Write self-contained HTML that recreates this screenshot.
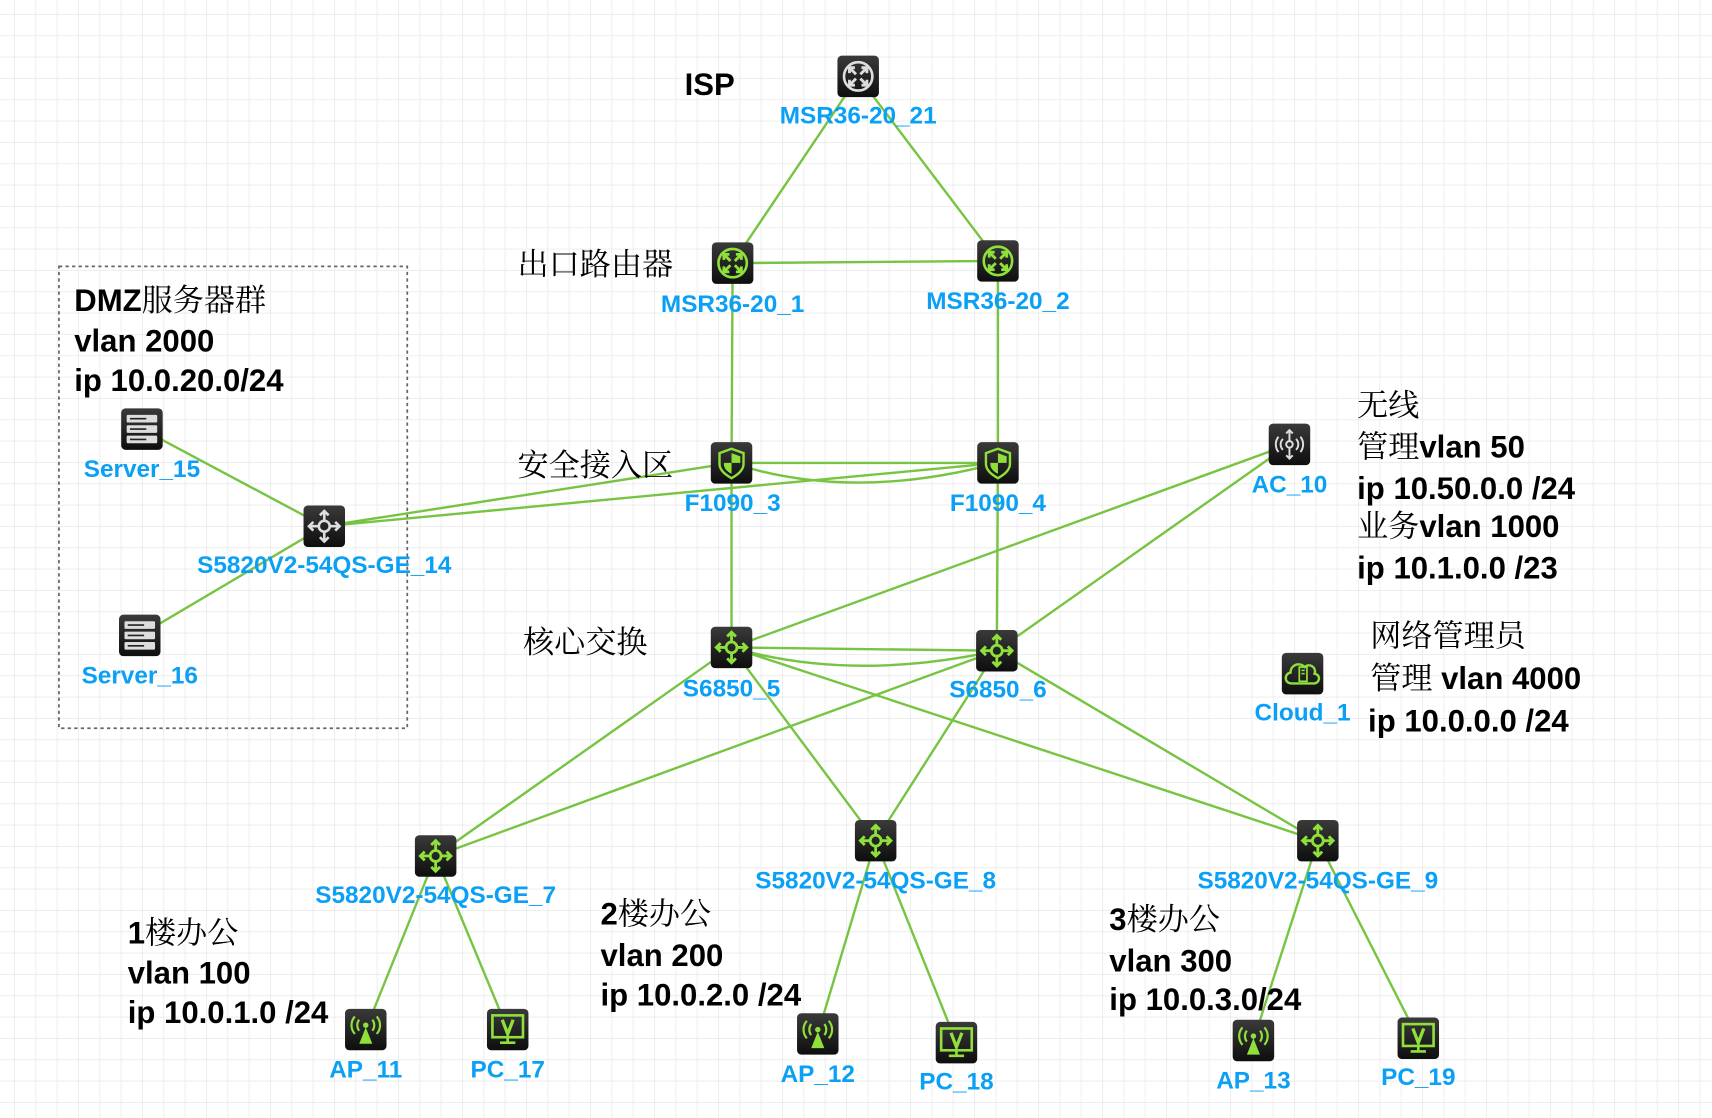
<!DOCTYPE html>
<html><head><meta charset="utf-8"><style>
html,body{margin:0;padding:0;background:#fff;}
svg{display:block;}
.lb{font-family:"Liberation Sans",sans-serif;font-weight:bold;font-size:22.3px;fill:#0aa0f5;text-anchor:middle;}
.tx{font-family:"Liberation Sans","Noto Sans CJK SC",sans-serif;font-weight:bold;font-size:28.5px;fill:#000;}
.cj{font-family:"Noto Serif CJK SC","Liberation Serif",serif;font-weight:normal;}
.ln{stroke:#76c442;stroke-width:2.2;fill:none;}
</style></head><body>
<svg width="1712" height="1118" viewBox="0 0 1568 1024" preserveAspectRatio="none" xmlns="http://www.w3.org/2000/svg">
<defs>
<pattern id="g" x="12.8" y="12.8" width="19.54" height="19.54" patternUnits="userSpaceOnUse">
<path d="M0 0H19.54M0 0V19.54" stroke="#ececec" stroke-width="1.6"/>
</pattern>
<linearGradient id="bg" x1="0" y1="0" x2="0" y2="1"><stop offset="0" stop-color="#3a3a3a"/><stop offset="1" stop-color="#0e0e0e"/></linearGradient>
<g id="box"><rect x="-19" y="-19" width="38" height="38" rx="4" fill="url(#bg)"/></g>
<g id="sw"><use href="#box"/><g stroke="#8fe03a" stroke-width="2.6" fill="none"><circle r="5"/><path d="M-14 0H-5M5 0H14M0 -14V-5M0 5V14M-10 -4L-14 0L-10 4M10 -4L14 0L10 4M-4 -10L0 -14L4 -10M-4 10L0 14L4 10"/></g></g>
<g id="swg"><use href="#box"/><g stroke="#ddd" stroke-width="2.4" fill="none"><circle r="5"/><path d="M-14 0H-5M5 0H14M0 -14V-5M0 5V14M-10 -4L-14 0L-10 4M10 -4L14 0L10 4M-4 -10L0 -14L4 -10M-4 10L0 14L4 10"/></g></g>
<g id="rt"><use href="#box"/><circle r="13" stroke="#8fe03a" stroke-width="2.4" fill="none"/><g stroke="#8fe03a" stroke-width="2.6" fill="none"><path d="M-8 -8L-2 -2M8 -8L2 -2M-8 8L-2 2M8 8L2 2M-8 -3V-8H-3M8 -3V-8H3M-8 3V8H-3M8 3V8H3"/></g></g>
<g id="rtg"><use href="#box"/><circle r="13" stroke="#ddd" stroke-width="2.4" fill="none"/><g stroke="#ddd" stroke-width="2.6" fill="none"><path d="M-8 -8L-2 -2M8 -8L2 -2M-8 8L-2 2M8 8L2 2M-8 -3V-8H-3M8 -3V-8H3M-8 3V8H-3M8 3V8H3"/></g></g>
<g id="fw"><use href="#box"/><path d="M0 -13L11 -9V1C11 7 5 11 0 14C-5 11 -11 7 -11 1V-9Z" stroke="#8fe03a" stroke-width="2.2" fill="none"/><path d="M0 -9V0H8V-6L0 -9ZM0 0V10C-4 8 -7 5 -7 1V0Z" fill="#8fe03a"/></g>
<g id="sv"><use href="#box"/><g fill="#ddd"><rect x="-14" y="-13" width="28" height="7" rx="1"/><rect x="-14" y="-3.5" width="28" height="7" rx="1"/><rect x="-14" y="6" width="28" height="7" rx="1"/></g><g stroke="#222" stroke-width="1.5"><path d="M-11 -9.5H4M-11 0H4M-11 9.5H4"/></g></g>
<g id="ap"><use href="#box"/><path d="M0 -2L-6 13H6Z" fill="#8fe03a"/><circle cy="-4" r="2.5" fill="#8fe03a"/><g stroke="#8fe03a" stroke-width="2" fill="none"><path d="M-6 -9A8 8 0 0 0 -6 1M6 -9A8 8 0 0 1 6 1M-10 -12A12 12 0 0 0 -10 4M10 -12A12 12 0 0 1 10 4"/></g></g>
<g id="pc"><use href="#box"/><rect x="-14" y="-13" width="28" height="20" stroke="#8fe03a" stroke-width="2.4" fill="none"/><path d="M-5 -9L0 4L5 -9" stroke="#8fe03a" stroke-width="3" fill="none"/><path d="M0 7V11M-7 12H7" stroke="#8fe03a" stroke-width="2.4"/></g>
<g id="ac"><use href="#box"/><g stroke="#ddd" stroke-width="1.8" fill="none"><circle r="3"/><path d="M0 -13V-3M0 3V13M-3 -10L0 -13L3 -10M-3 10L0 13L3 10M-6 -5A7 7 0 0 0 -6 5M6 -5A7 7 0 0 1 6 5M-10 -7A11 11 0 0 0 -10 7M10 -7A11 11 0 0 1 10 7"/></g></g>
<g id="cl"><use href="#box"/><path d="M-10 9C-17 9 -17 0 -11 -1C-11 -8 -3 -11 2 -6C6 -10 13 -6 11 0C17 1 16 9 10 9Z" stroke="#8fe03a" stroke-width="2.2" fill="none"/><rect x="-3" y="-6" width="7" height="13" stroke="#8fe03a" stroke-width="1.6" fill="none"/><path d="M-1 -3H2M-1 0H2" stroke="#8fe03a" stroke-width="1.4"/></g>
</defs>
<rect width="1568" height="1024" fill="#fff"/>
<rect width="1568" height="1024" fill="url(#g)"/>
<rect x="54" y="244" width="319" height="423" fill="none" stroke="#666" stroke-width="1.6" stroke-dasharray="3,3"/>

<g class="ln">
<path d="M786 70L671 241M786 70L914 239M671 241L914 239M671 241L670 424M914 239L914 424"/>
<path d="M297 482L670 424M297 482L914 424M670 424L914 424M670 424Q780 460 914 424"/>
<path d="M130 393L297 482M128 582L297 482"/>
<path d="M670 424L670 593M914 424L913 596M670 593L913 596M670 593Q780 625 913 596"/>
<path d="M670 593L1181 407M913 596L1181 407"/>
<path d="M670 593L399 784M913 596L399 784M670 593L802 770M913 596L802 770M670 593L1207 770M913 596L1207 770"/>
<path d="M399 784L335 943M399 784L465 943M802 770L749 947M802 770L876 955M1207 770L1148 953M1207 770L1299 951"/>
</g>

<use href="#rtg" x="786" y="70"/>
<use href="#rt" x="671" y="241"/>
<use href="#rt" x="914" y="239"/>
<use href="#fw" x="670" y="424"/>
<use href="#fw" x="914" y="424"/>
<use href="#sw" x="670" y="593"/>
<use href="#sw" x="913" y="596"/>
<use href="#ac" x="1181" y="407"/>
<use href="#cl" x="1193" y="617"/>
<use href="#swg" x="297" y="482"/>
<use href="#sv" x="130" y="393"/>
<use href="#sv" x="128" y="582"/>
<use href="#sw" x="399" y="784"/>
<use href="#sw" x="802" y="770"/>
<use href="#sw" x="1207" y="770"/>
<use href="#ap" x="335" y="943"/>
<use href="#pc" x="465" y="943"/>
<use href="#ap" x="749" y="947"/>
<use href="#pc" x="876" y="955"/>
<use href="#ap" x="1148" y="953"/>
<use href="#pc" x="1299" y="951"/>

<g class="lb">
<text x="786" y="113">MSR36-20_21</text>
<text x="671" y="286">MSR36-20_1</text>
<text x="914" y="283">MSR36-20_2</text>
<text x="671" y="468">F1090_3</text>
<text x="914" y="468">F1090_4</text>
<text x="670" y="638">S6850_5</text>
<text x="914" y="639">S6850_6</text>
<text x="1181" y="451">AC_10</text>
<text x="1193" y="660">Cloud_1</text>
<text x="297" y="525">S5820V2-54QS-GE_14</text>
<text x="130" y="437">Server_15</text>
<text x="128" y="626">Server_16</text>
<text x="399" y="827">S5820V2-54QS-GE_7</text>
<text x="802" y="814">S5820V2-54QS-GE_8</text>
<text x="1207" y="814">S5820V2-54QS-GE_9</text>
<text x="335" y="987">AP_11</text>
<text x="465" y="987">PC_17</text>
<text x="749" y="991">AP_12</text>
<text x="876" y="998">PC_18</text>
<text x="1148" y="997">AP_13</text>
<text x="1299" y="994">PC_19</text>
</g>

<g class="tx">
<text x="627" y="87">ISP</text>
<text x="474" y="252" class="cj">出口路由器</text>
<text x="474" y="436" class="cj">安全接入区</text>
<text x="479" y="598" class="cj">核心交换</text>
<text x="68" y="285">DMZ<tspan class="cj">服务器群</tspan></text>
<text x="68" y="322">vlan 2000</text>
<text x="68" y="358">ip 10.0.20.0/24</text>
<text x="1243" y="381" class="cj">无线</text>
<text x="1243" y="419"><tspan class="cj">管理</tspan>vlan 50</text>
<text x="1243" y="457">ip 10.50.0.0 /24</text>
<text x="1243" y="492"><tspan class="cj">业务</tspan>vlan 1000</text>
<text x="1243" y="530">ip 10.1.0.0 /23</text>
<text x="1255" y="592" class="cj">网络管理员</text>
<text x="1255" y="631"><tspan class="cj">管理</tspan> vlan 4000</text>
<text x="1253" y="670">ip 10.0.0.0 /24</text>
<text x="117" y="864">1<tspan class="cj">楼办公</tspan></text>
<text x="117" y="901">vlan 100</text>
<text x="117" y="937">ip 10.0.1.0 /24</text>
<text x="550" y="847">2<tspan class="cj">楼办公</tspan></text>
<text x="550" y="885">vlan 200</text>
<text x="550" y="921">ip 10.0.2.0 /24</text>
<text x="1016" y="852">3<tspan class="cj">楼办公</tspan></text>
<text x="1016" y="890">vlan 300</text>
<text x="1016" y="925">ip 10.0.3.0/24</text>
</g>
</svg>
</body></html>
